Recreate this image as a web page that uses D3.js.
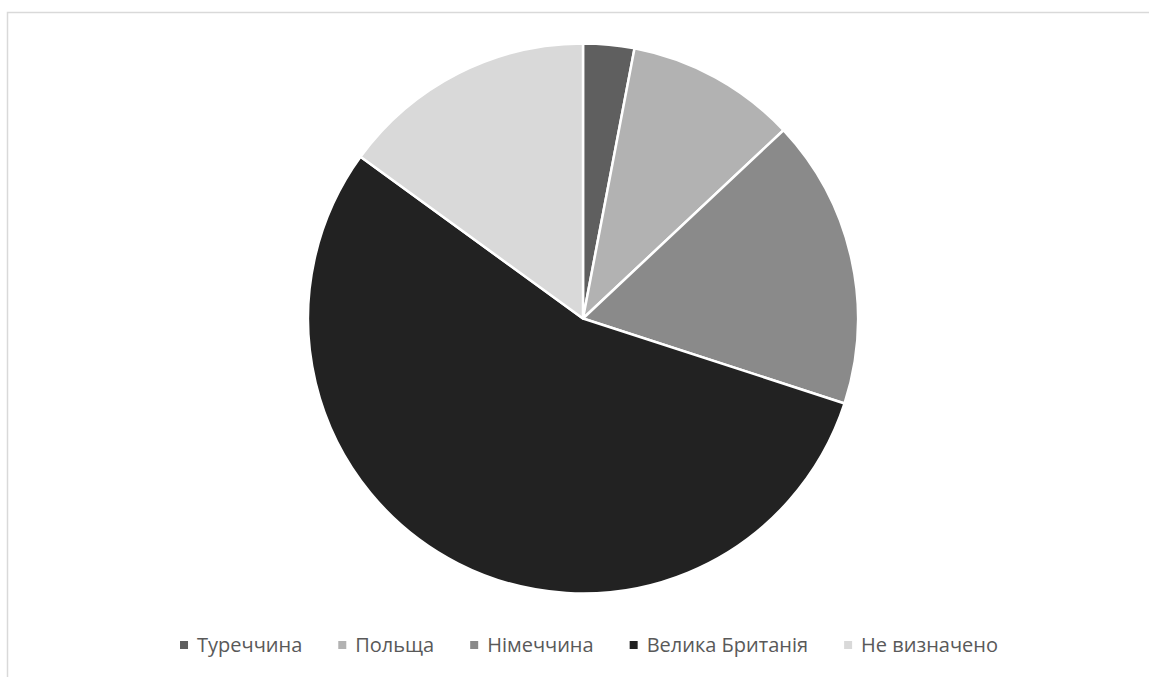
<!DOCTYPE html>
<html>
<head>
<meta charset="utf-8">
<script src="https://cdn.jsdelivr.net/npm/d3@7/dist/d3.min.js"></script>
<style>
  html, body { margin: 0; padding: 0; background: #fff; }
  svg { display: block; }
</style>
</head>
<body>
<svg id="chart" width="1149" height="677"></svg>
<script>
// Share by destination country (%)
const categories = ["Туреччина", "Польща", "Німеччина", "Велика Британія", "Не визначено"];
const values = [3, 10, 17, 55, 15];
const colors = ["#5f5f5f", "#b2b2b2", "#8a8a8a", "#222222", "#d9d9d9"];

const svg = d3.select("#chart");
const W = 1149, H = 677;

// chart area frame (extends past the right and bottom edges)
svg.append("rect")
  .attr("x", 7.5).attr("y", 12.5)
  .attr("width", W + 20).attr("height", H + 20)
  .attr("fill", "#fff")
  .attr("stroke", "#d9d9d9")
  .attr("stroke-width", 1.5);

const cx = 583, cy = 318.5, r = 275;

const data = categories.map((c, i) => ({ name: c, value: values[i], color: colors[i] }));

const pie = d3.pie().value(d => d.value).sort(null);
const arc = d3.arc().innerRadius(0).outerRadius(r);

svg.append("g")
  .attr("transform", `translate(${cx},${cy})`)
  .selectAll("path")
  .data(pie(data))
  .join("path")
  .attr("d", arc)
  .attr("fill", d => d.data.color)
  .attr("stroke", "#fff")
  .attr("stroke-width", 2.5)
  .attr("stroke-linejoin", "round");

// legend row, centred under the pie
const legend = svg.append("g");
const fontSize = 20;
const items = legend.selectAll("g")
  .data(data)
  .join("g");

items.append("rect")
  .attr("width", 8).attr("height", 8)
  .attr("y", -11)
  .attr("fill", d => d.color);

items.append("text")
  .attr("x", 17)
  .attr("y", 0)
  .attr("font-family", "'Open Sans', 'Noto Sans', sans-serif")
  .attr("font-size", fontSize)
  .attr("fill", "#595959")
  .text(d => d.name);

const gap = 36;
let x = 0;
const offsets = [];
items.each(function () {
  offsets.push(x);
  x += this.getBBox().width + gap;
});
const total = x - gap;
const startX = 589 - total / 2;
items.attr("transform", (d, i) => `translate(${startX + offsets[i]},652)`);
</script>
</body>
</html>
